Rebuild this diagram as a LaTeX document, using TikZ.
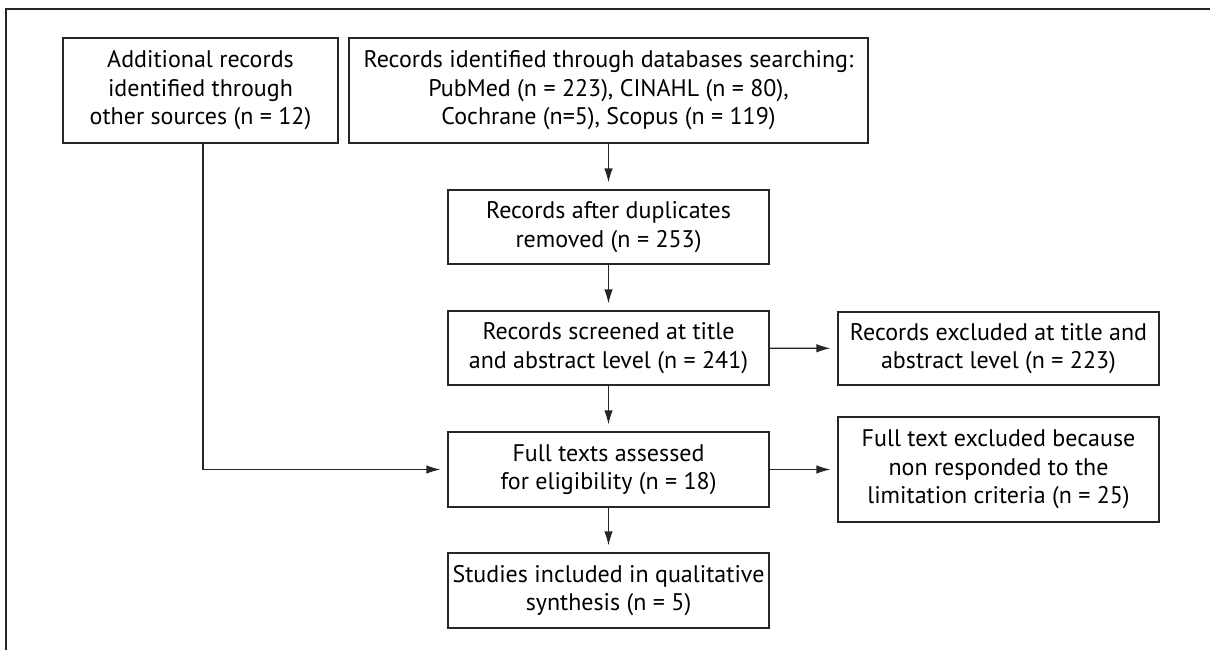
\documentclass[tikz,border=0pt]{standalone}
\usepackage{fontspec}
\setmainfont{PT Sans}
\usetikzlibrary{arrows.meta}
\begin{document}
\begin{tikzpicture}[x=1pt,y=-1pt,
  box/.style={draw=black!85, line width=1.2pt, align=center, inner sep=0pt,
    font=\fontsize{24}{28.5}\selectfont},
  arr/.style={draw=black!85, line width=1.2pt, -{Latex[length=14pt,width=8.5pt]}, shorten >=7pt},
  frame/.style={draw=black!85, line width=1.8pt}]
\useasboundingbox (0,0) rectangle (1210,650);
\coordinate (f1) at (1210,9);
\coordinate (f0) at (6,9);
\coordinate (f2) at (6,650);
\draw[frame] (f1) -- (f0) -- (f2);
\node[box, minimum width=275pt, minimum height=105pt] (A) at (200.5,90.5)
  {Additional records\\identified through\\other sources (n = 12)};
\node[box, minimum width=519pt, minimum height=105pt] (B) at (608.5,90.5)
  {Records identified through databases searching:\\PubMed (n = 223), CINAHL (n = 80),\\Cochrane (n=5), Scopus (n = 119)};
\node[box, minimum width=321pt, minimum height=74pt] (C) at (608.5,227)
  {Records after duplicates\\removed (n = 253)};
\node[box, minimum width=321pt, minimum height=74pt] (D) at (608.5,348)
  {Records screened at title\\and abstract level (n = 241)};
\node[box, minimum width=321pt, minimum height=73pt] (E) at (998.5,348.5)
  {Records excluded at title and\\abstract level (n = 223)};
\node[box, minimum width=321pt, minimum height=75pt] (F) at (608.5,469.5)
  {Full texts assessed\\for eligibility (n = 18)};
\node[box, minimum width=321pt, minimum height=105pt] (H) at (998.5,469.5)
  {Full text excluded because\\non responded to the\\limitation criteria (n = 25)};
\node[box, minimum width=321pt, minimum height=75pt] (G) at (608.5,590.5)
  {Studies included in qualitative\\synthesis (n = 5)};
\draw[arr] (B) -- (C);
\draw[arr] (C) -- (D);
\draw[arr] (D) -- (E);
\draw[arr] (D) -- (F);
\draw[arr] (F) -- (H);
\draw[arr] (F) -- (G);
\draw[arr] ([xshift=2.5pt]A.south) |- (F.west);
\end{tikzpicture}
\end{document}
